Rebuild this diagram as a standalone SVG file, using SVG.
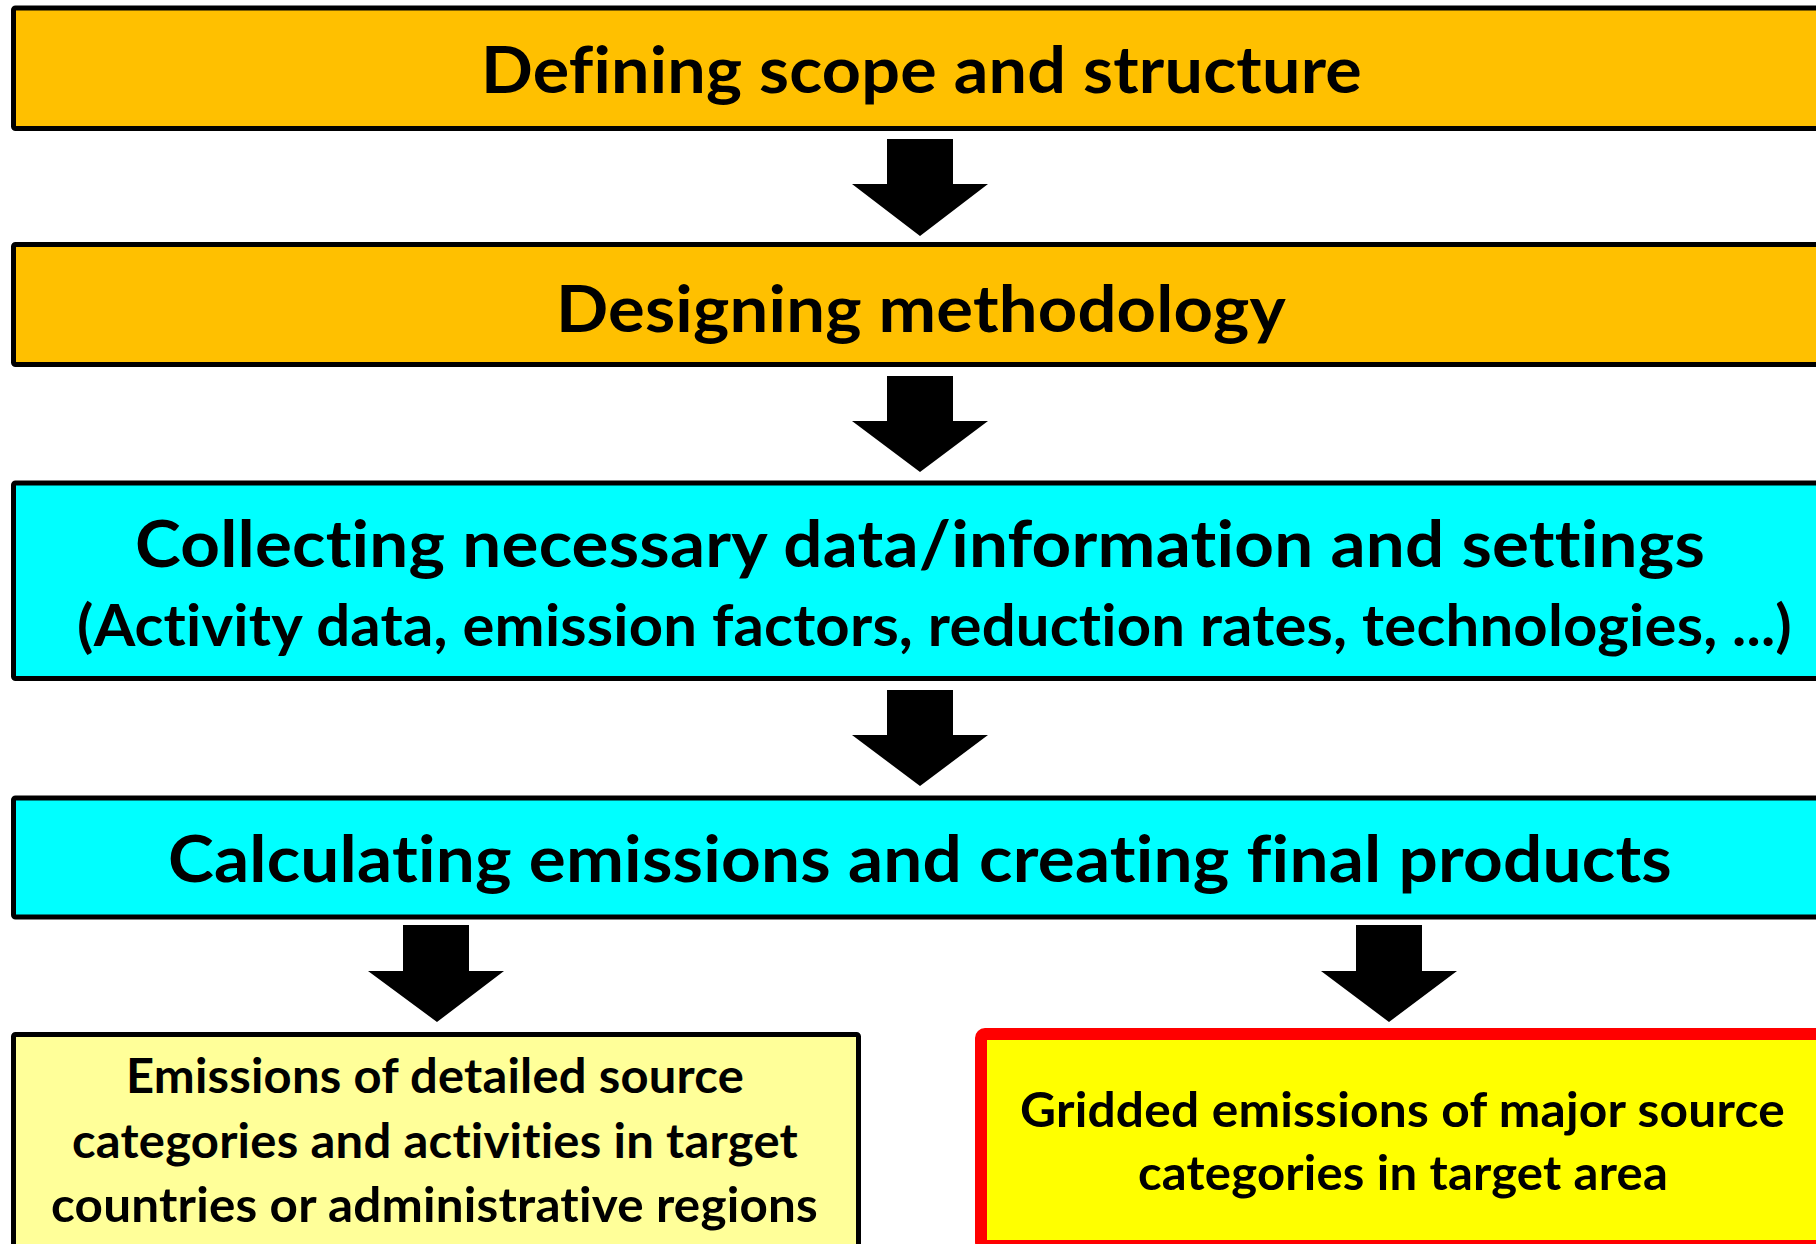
<svg xmlns="http://www.w3.org/2000/svg" width="1816" height="1244" viewBox="0 0 1816 1244">
<defs>
<style>
.box{stroke:#000;stroke-width:5;stroke-linejoin:round}
.orange{fill:#FFC000}
.cyan{fill:#00FFFF}
.pale{fill:#FFFF99}
.red{fill:#FFFF00;stroke:#FF0000;stroke-width:12;stroke-linejoin:round}
.t{font-family:Lato,"Open Sans","Liberation Sans",sans-serif;font-weight:bold;fill:#000;font-variant-ligatures:none;font-feature-settings:"liga" 0,"clig" 0,"dlig" 0,"calt" 0;letter-spacing:0.2px}
.big{font-size:65px}
.mid{font-size:57px}
.sm{font-size:47px}
.arrow{fill:#000}
</style>
</defs>
<rect width="1816" height="1244" fill="#FFFFFF"/>
<g id="node-scope">
<rect class="box orange" x="13.5" y="8" width="1830" height="120.5" rx="2"/>
<text class="t big" x="481" y="93" textLength="881" lengthAdjust="spacingAndGlyphs">Defining scope and structure</text>
</g>
<g id="node-method">
<rect class="box orange" x="13.5" y="244.5" width="1830" height="120" rx="2"/>
<text class="t big" x="556" y="332" textLength="730" lengthAdjust="spacingAndGlyphs">Designing methodology</text>
</g>
<g id="node-collect">
<rect class="box cyan" x="13.5" y="483" width="1830" height="195.5" rx="2"/>
<text class="t big" x="135" y="567" textLength="1570" lengthAdjust="spacingAndGlyphs">Collecting necessary data/information and settings</text>
<text class="t mid" x="77" y="646" textLength="1715" lengthAdjust="spacingAndGlyphs">(Activity data, emission factors, reduction rates, technologies, ...)</text>
</g>
<g id="node-calc">
<rect class="box cyan" x="13.5" y="798" width="1830" height="119" rx="2"/>
<text class="t big" x="168" y="882" textLength="1504" lengthAdjust="spacingAndGlyphs">Calculating emissions and creating final products</text>
</g>
<g id="node-detailed">
<rect class="box pale" x="13.5" y="1034.5" width="845" height="212" rx="2"/>
<text class="t sm" x="126" y="1093" textLength="618" lengthAdjust="spacingAndGlyphs">Emissions of detailed source</text>
<text class="t sm" x="72" y="1158" textLength="726" lengthAdjust="spacingAndGlyphs">categories and activities in target</text>
<text class="t sm" x="51" y="1222" textLength="767" lengthAdjust="spacingAndGlyphs">countries or administrative regions</text>
</g>
<g id="node-gridded">
<rect class="red" x="981" y="1034" width="860" height="212" rx="4"/>
<text class="t sm" x="1020" y="1127" textLength="765" lengthAdjust="spacingAndGlyphs">Gridded emissions of major source</text>
<text class="t sm" x="1138" y="1190" textLength="530" lengthAdjust="spacingAndGlyphs">categories in target area</text>
</g>
<g id="connectors">
<polygon class="arrow" points="887,139 953,139 953,184 988,184 920,236 852,184 887,184"/>
<polygon class="arrow" points="887,376 953,376 953,421 988,421 920,472 852,421 887,421"/>
<polygon class="arrow" points="887,690 953,690 953,735 988,735 920,786 852,735 887,735"/>
<polygon class="arrow" points="403,925 469,925 469,971 504,971 437,1022 368,971 403,971"/>
<polygon class="arrow" points="1356,925 1422,925 1422,971 1457,971 1389,1022 1321,971 1356,971"/>
</g>
</svg>
